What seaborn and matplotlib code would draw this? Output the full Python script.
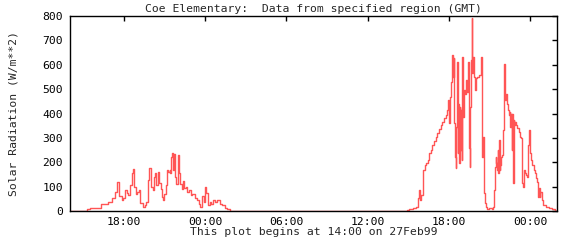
import matplotlib
matplotlib.use("Agg")
import matplotlib.pyplot as plt
import seaborn as sns
import pandas as pd

# hours since 14:00 on 27Feb99
hours = [0.0, 1.23, 1.47, 2.26, 2.83, 3.07, 3.32, 3.44, 3.64, 3.81, 3.93, 4.06, 4.18, 4.30,
         4.42, 4.55, 4.67, 4.74, 4.87, 4.97, 5.11, 5.21, 5.36, 5.53, 5.65, 5.78, 5.85,
         5.97, 6.10, 6.19, 6.32, 6.39, 6.51, 6.59, 6.69, 6.78, 6.88, 6.96, 7.08, 7.18,
         7.28, 7.37, 7.42, 7.50, 7.57, 7.62, 7.69, 7.79, 7.87, 7.96, 8.06, 8.16, 8.26,
         8.36, 8.46, 8.55, 8.65, 8.80, 8.92, 9.05, 9.22, 9.39, 9.54, 9.64, 9.76, 9.88,
         10.01, 10.08, 10.20, 10.32, 10.45, 10.57, 10.69, 10.87, 11.06, 11.26, 11.43,
         11.60, 11.80,
         24.83, 24.88, 25.07, 25.32, 25.57, 25.69, 25.76, 25.81, 25.88, 25.96, 26.06,
         26.13, 26.25, 26.35, 26.43, 26.55, 26.67, 26.79, 26.92, 27.04, 27.16, 27.29,
         27.41, 27.53, 27.65, 27.78, 27.90, 27.97, 28.02, 28.07, 28.15, 28.22, 28.27,
         28.32, 28.37, 28.42, 28.47, 28.52, 28.56, 28.61, 28.66, 28.71, 28.76, 28.81,
         28.86, 28.91, 28.96, 29.01, 29.06, 29.10, 29.15, 29.20, 29.25, 29.33, 29.40,
         29.45, 29.50, 29.55, 29.57, 29.62, 29.70, 29.74, 29.79, 29.87, 29.94, 29.99,
         30.11,
         30.24, 30.36, 30.41, 30.43, 30.48, 30.53, 30.58, 30.65, 30.73, 30.85, 30.97,
         31.17, 31.27, 31.34, 31.42, 31.47, 31.51, 31.56, 31.61, 31.66, 31.71, 31.76,
         31.81, 31.86, 31.96, 32.01, 32.06, 32.08, 32.13, 32.18, 32.20, 32.28, 32.35,
         32.40, 32.45, 32.50, 32.55, 32.60, 32.65, 32.69, 32.74, 32.79, 32.84, 32.89,
         32.94, 33.06, 33.19, 33.26, 33.33, 33.38, 33.43, 33.48, 33.55, 33.63, 33.73,
         33.80, 33.85, 33.92, 34.00, 34.07, 34.17, 34.27, 34.37, 34.46, 34.54, 34.61,
         34.66, 34.71, 34.78, 34.86, 34.96, 35.15, 35.40, 35.64, 35.84, 36.0]

radiation = [0, 7, 14, 30, 38, 52, 77, 120, 60, 45, 52, 86, 72, 65,
             107, 155, 171, 100, 70, 78, 86, 31, 18, 25, 38, 127, 175,
             100, 85, 140, 155, 107, 160, 115, 90, 58, 45, 70, 105, 168,
             160, 170, 155, 222, 240, 170, 235, 140, 110, 230, 155, 110, 90,
             125, 95, 100, 80, 86, 65, 70, 55, 47, 30, 18, 60, 38,
             100, 72, 25, 38, 30, 45, 38, 45, 30, 25, 14,
             7, 0,
             0, 4, 8, 14, 18, 31, 52, 86, 45, 66, 120,
             170, 188, 195, 209, 236, 250, 270, 287, 305, 318, 335,
             352, 366, 380, 393, 414, 455, 360, 469, 530, 585, 640,
             550, 626, 360, 223, 175, 346, 612, 236, 441, 195, 428,
             250, 414, 209, 633, 387, 455, 496, 482, 537, 489, 537,
             612, 257, 182, 428, 619, 790, 565, 633, 550, 496, 544,
             550,
             557, 578, 633, 578, 223, 305, 72, 31, 18, 7, 11,
             7, 18, 86, 182, 223, 195, 168, 250, 154, 291, 168,
             188, 223, 229, 332, 455, 605, 523, 455, 482, 441, 421,
             414, 394, 407, 346, 400, 250, 400, 113, 373, 353, 366,
             353, 339, 325, 305, 298, 277, 113, 100, 168, 154, 147,
             141, 271, 332, 236, 209, 188, 168, 154, 134, 120, 59,
             93, 59, 79, 45, 25, 18, 14, 7, 0, 0]

tick_hours = [4, 10, 16, 22, 28, 34]
tick_labels = ["18:00", "00:00", "06:00", "12:00", "18:00", "00:00"]
y_ticks = [0, 100, 200, 300, 400, 500, 600, 700, 800]

title = "Coe Elementary:  Data from specified region (GMT)"
xlabel = "This plot begins at 14:00 on 27Feb99"
ylabel = "Solar Radiation (W/m**2)"

sns.set_theme(style="white")
plt.rcParams['font.family'] = ['DejaVu Sans Mono']

df = pd.DataFrame({"hour": hours, "rad": radiation})

fig = plt.figure(figsize=(5.76, 2.4), dpi=100)
ax = fig.add_axes([70/576, 29/240, 487/576, 195/240])
sns.lineplot(data=df, x="hour", y="rad", ax=ax, color="#ff5555", linewidth=1.0,
             estimator=None, sort=False, drawstyle="steps-post")

ax.set_xlim(0, 36)
ax.set_ylim(0, 800)
ax.set_xticks(tick_hours)
ax.set_xticklabels(tick_labels)
ax.set_yticks(y_ticks)
fs = 8.2
ax.tick_params(axis="both", which="both", direction="in", length=3.6, width=1,
               top=True, right=True, labelsize=fs, colors="black")
ax.tick_params(axis="x", pad=4)
ax.tick_params(axis="y", pad=5)
for s in ax.spines.values():
    s.set_color("black")
    s.set_linewidth(1.0)
ax.set_title(title, fontsize=fs, pad=3)
ax.set_xlabel(xlabel, fontsize=fs, labelpad=0)
ax.set_ylabel(ylabel, fontsize=fs, labelpad=17)
fig.savefig("out.png", dpi=100, facecolor="white")
